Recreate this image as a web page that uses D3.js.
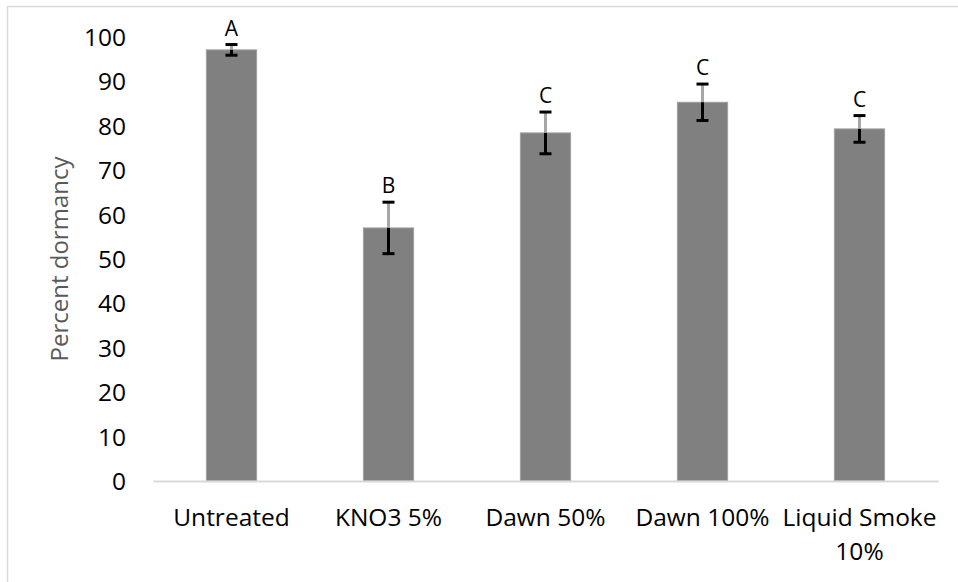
<!DOCTYPE html>
<html>
<head>
<meta charset="utf-8">
<script src="https://cdn.jsdelivr.net/npm/d3@7"></script>
<style>
  body { margin: 0; background: #fff; }
  svg text { font-family: "Open Sans", sans-serif; }
</style>
</head>
<body>
<svg class="chart" width="958" height="582"></svg>
<script>
let categories = ['Untreated', 'KNO3 5%', 'Dawn 50%', 'Dawn 100%', 'Liquid Smoke 10%'];
let means = [97.1, 57.0, 78.4, 85.3, 79.3];
let errors = [1.2, 5.8, 4.7, 4.1, 3.0];
let letters = ['A', 'B', 'C', 'C', 'C'];
let yTicks = [0, 10, 20, 30, 40, 50, 60, 70, 80, 90, 100];

let fontSize = '24.5px';

let svg = d3.select('svg.chart');

// chart frame (only left / top edge visible in the crop)
svg.append('rect')
  .attr('x', 7.5)
  .attr('y', 6.5)
  .attr('width', 1000)
  .attr('height', 1000)
  .style('fill', 'none')
  .style('stroke', '#d9d9d9')
  .style('stroke-width', '1.5px');

let x = d3.scaleBand()
  .domain(categories)
  .range([153, 938])
  .paddingInner(0.68)
  .paddingOuter(0.34);

let y = d3.scaleLinear()
  .domain([0, 100])
  .range([481, 37]);

let data = categories.map((c, i) => ({cat: c, mean: means[i], err: errors[i], letter: letters[i]}));

// y axis labels
let yAxis = svg.append('g')
  .attr('transform', 'translate(126,0)')
  .call(d3.axisLeft(y).tickValues(yTicks).tickSize(0).tickPadding(0));
yAxis.select('.domain').remove();
yAxis.selectAll('text')
  .style('font-size', fontSize)
  .style('fill', '#000')
  .attr('dy', '0.35em');

// bars
svg.selectAll('rect.bar')
  .data(data)
  .enter()
  .append('rect')
  .attr('class', 'bar')
  .attr('x', d => x(d.cat))
  .attr('y', d => y(d.mean))
  .attr('width', x.bandwidth())
  .attr('height', d => y(0) - y(d.mean))
  .style('fill', '#808080')
  .style('stroke', '#a0a0a0')
  .style('stroke-width', '1px');

// x axis line
let xAxis = svg.append('g')
  .attr('transform', `translate(0,${y(0)})`)
  .call(d3.axisBottom(x).tickSize(0).tickPadding(0));
xAxis.select('.domain')
  .style('stroke', '#d9d9d9')
  .style('stroke-width', '2px');
xAxis.selectAll('text').remove();

// category labels, wrapped to roughly the band step
let wrapWidth = x.step() + 8;
let catLabels = svg.selectAll('text.cat')
  .data(data)
  .enter()
  .append('text')
  .attr('class', 'cat')
  .attr('x', d => x(d.cat) + x.bandwidth() / 2)
  .attr('y', 526)
  .attr('text-anchor', 'middle')
  .style('font-size', fontSize)
  .style('fill', '#000');

catLabels.each(function(d) {
  let el = d3.select(this);
  let words = d.cat.split(' ');
  let lines = [];
  let line = [];
  let tsp = el.append('tspan').attr('x', el.attr('x'));
  words.forEach(w => {
    line.push(w);
    tsp.text(line.join(' '));
    if (tsp.node().getComputedTextLength() > wrapWidth && line.length > 1) {
      line.pop();
      lines.push(line.join(' '));
      line = [w];
    }
  });
  lines.push(line.join(' '));
  tsp.remove();
  lines.forEach((l, i) => {
    el.append('tspan')
      .attr('x', el.attr('x'))
      .attr('dy', i == 0 ? 0 : 34)
      .text(l);
  });
});

// error bars
let errG = svg.selectAll('g.err')
  .data(data)
  .enter()
  .append('g')
  .attr('class', 'err')
  .attr('transform', d => `translate(${x(d.cat) + x.bandwidth() / 2},0)`);

errG.append('line')
  .attr('y1', d => y(d.mean + d.err))
  .attr('y2', d => y(d.mean))
  .style('stroke', '#a6a6a6')
  .style('stroke-width', '3px');

errG.append('line')
  .attr('y1', d => y(d.mean))
  .attr('y2', d => y(d.mean - d.err))
  .style('stroke', '#000')
  .style('stroke-width', '3px');

errG.selectAll('line.cap')
  .data(d => [d.mean + d.err, d.mean - d.err])
  .enter()
  .append('line')
  .attr('class', 'cap')
  .attr('x1', -6)
  .attr('x2', 6)
  .attr('y1', v => y(v))
  .attr('y2', v => y(v))
  .style('stroke', '#000')
  .style('stroke-width', '3px');

// significance letters
svg.selectAll('text.letter')
  .data(data)
  .enter()
  .append('text')
  .attr('class', 'letter')
  .attr('x', d => x(d.cat) + x.bandwidth() / 2)
  .attr('y', d => y(d.mean + d.err) - 9)
  .attr('text-anchor', 'middle')
  .style('font-size', '21px')
  .style('fill', '#000')
  .text(d => d.letter);

// y axis title
svg.append('text')
  .attr('transform', `translate(68,${(y(0) + y(100)) / 2}) rotate(-90)`)
  .attr('text-anchor', 'middle')
  .style('font-size', '24px')
  .style('fill', '#595959')
  .text('Percent dormancy');
</script>
</body>
</html>
